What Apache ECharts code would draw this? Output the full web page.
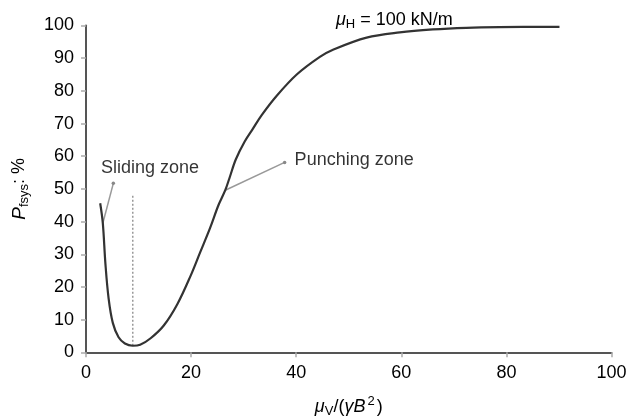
<!DOCTYPE html>
<html>
<head>
<meta charset="utf-8">
<script src="https://cdn.jsdelivr.net/npm/echarts@6/dist/echarts.min.js"></script>
<style>
  html, body { margin: 0; padding: 0; background: #fff; }
  #chart { width: 629px; height: 416px; }
</style>
</head>
<body>
<div id="chart"></div>
<script>
'use strict';

// curve
const curveX = [2.7, 3.2, 3.7, 4.3, 5.1, 6.2, 7.4, 8.9, 10.3, 12.3, 14.8, 17.4, 19.9,
  21.7, 23.6, 25.2, 26.5, 27.4, 28.5, 30.2, 31.8, 33.4, 36.3, 40.1, 44.5, 47, 53.4, 59.7,
  66, 72.4, 78.7, 90.1];
const curveY = [45.6, 39.5, 27, 16.5, 9, 4.6, 2.7, 2.0, 2.3, 4.3, 8.2, 14.8, 23.4,
  30.5, 38, 45, 49.6, 53.8, 59, 64.5, 68.5, 72.5, 78.5, 85, 90.4, 92.6, 96.3, 97.9,
  98.8, 99.3, 99.5, 99.6];

// annotation lines (data units)
const minLine = [[8.9, 2], [8.9, 48]];
const slidingLeader = [[3.2, 39.5], [5.2, 51.7]];
const punchingLeader = [[26.5, 49.6], [37.8, 58.1]];
const zoneLabels = [
  { name: 'Sliding zone', value: [2.85, 56.4] },
  { name: 'Punching zone', value: [39.7, 58.8] }
];

const xTicks = [0, 20, 40, 60, 80, 100];
const yTicks = [0, 10, 20, 30, 40, 50, 60, 70, 80, 90, 100];

const font = 'Liberation Sans, Arial, sans-serif';
const fs = 18;

const curve = curveX.map((x, i) => [x, curveY[i]]);

const chart = echarts.init(document.getElementById('chart'));

const option = {
  animation: false,
  textStyle: { fontFamily: font },
  title: {
    left: 331,
    top: 4,
    text: '{mu|μ}{sub|H}{t| = 100 kN/m}',
    textStyle: {
      fontWeight: 'normal',
      rich: {
        mu: { fontFamily: font, fontSize: fs, fontStyle: 'italic', fontWeight: 'normal', color: '#000' },
        sub: { fontFamily: font, fontSize: 13, fontWeight: 'normal', color: '#000', padding: [9, 0, 0, 0] },
        t: { fontFamily: font, fontSize: fs, fontWeight: 'normal', color: '#000' }
      }
    }
  },
  grid: { left: 86, right: 17.5, top: 25.5, bottom: 63.7, containLabel: false, outerBoundsMode: 'none' },
  xAxis: {
    type: 'value',
    min: xTicks[0],
    max: xTicks[xTicks.length - 1],
    interval: 20,
    splitLine: { show: false },
    axisLine: { lineStyle: { color: '#555', width: 2 } },
    axisTick: { show: true, length: 5, lineStyle: { color: '#aaa', width: 1.5 } },
    axisLabel: { color: '#000', fontSize: fs, margin: 12, fontFamily: font },
    name: '{mu|μ}{sub|V}{t|/(}{g|γ}{b|B}{sup|2}{t|)}',
    nameLocation: 'middle',
    nameGap: 43,
    nameTextStyle: {
      rich: {
        mu: { fontFamily: font, fontSize: fs, fontStyle: 'italic', color: '#000' },
        sub: { fontFamily: font, fontSize: 13, color: '#000', padding: [10, 0, 0, 0] },
        t: { fontFamily: font, fontSize: fs, color: '#000' },
        g: { fontFamily: font, fontSize: fs, fontStyle: 'italic', color: '#000' },
        b: { fontFamily: font, fontSize: fs, fontStyle: 'italic', color: '#000' },
        sup: { fontFamily: font, fontSize: 13, color: '#000', padding: [0, 2, 10, 2] }
      }
    }
  },
  yAxis: {
    type: 'value',
    min: yTicks[0],
    max: yTicks[yTicks.length - 1],
    interval: 10,
    splitLine: { show: false },
    axisLine: { show: true, lineStyle: { color: '#555', width: 2 } },
    axisTick: { show: true, length: 5, lineStyle: { color: '#aaa', width: 1.5 } },
    axisLabel: { color: '#000', fontSize: fs, margin: 12, fontFamily: font },
    name: '{p|P}{sub|fsys}{t|: %}',
    nameLocation: 'middle',
    nameRotate: 90,
    nameGap: 55,
    nameTextStyle: {
      rich: {
        p: { fontFamily: font, fontSize: 19, fontStyle: 'italic', color: '#000' },
        sub: { fontFamily: font, fontSize: 13, color: '#000', padding: [10, 0, 0, 0] },
        t: { fontFamily: font, fontSize: fs, color: '#000' }
      }
    }
  },
  series: [
    {
      type: 'line',
      data: minLine,
      symbol: 'none',
      lineStyle: { color: '#999', width: 1.5, type: [2, 2] },
      z: 1
    },
    {
      type: 'line',
      data: curve,
      smooth: 0.35,
      symbol: 'none',
      lineStyle: { color: '#333', width: 2.2 },
      z: 3
    },
    {
      type: 'line',
      data: slidingLeader,
      symbol: 'circle',
      symbolSize: (v, p) => (p.dataIndex === 1 ? 3.5 : 0),
      itemStyle: { color: '#888' },
      lineStyle: { color: '#999', width: 1.5 },
      z: 2
    },
    {
      type: 'line',
      data: punchingLeader,
      symbol: 'circle',
      symbolSize: (v, p) => (p.dataIndex === 1 ? 3.5 : 0),
      itemStyle: { color: '#888' },
      lineStyle: { color: '#999', width: 1.5 },
      z: 2
    },
    {
      type: 'scatter',
      data: zoneLabels,
      symbolSize: 0,
      label: {
        show: true,
        position: 'right',
        distance: 0,
        formatter: '{b}',
        color: '#000',
        fontSize: fs,
        fontFamily: font,
        textBorderWidth: 0
      },
      z: 4
    }
  ]
};

chart.setOption(option);
</script>
</body>
</html>
